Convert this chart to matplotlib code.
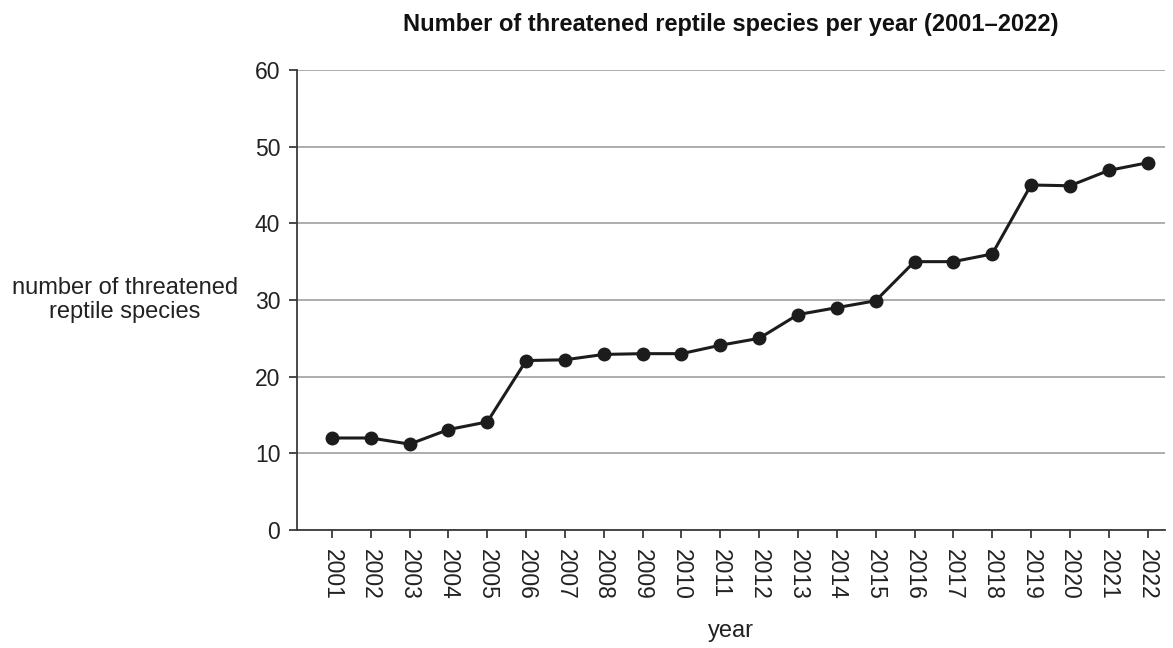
import matplotlib.pyplot as plt

plt.rcParams['font.family'] = ['Liberation Sans', 'DejaVu Sans']

# Data
years = [str(y) for y in range(2001, 2023)]
species = [12, 12, 11.2, 13.1, 14.1, 22.1, 22.2, 22.9, 23, 23, 24.1, 25,
           28.1, 29, 29.9, 35, 35, 36, 45, 44.9, 46.9, 47.9]
y_ticks = [0, 10, 20, 30, 40, 50, 60]

fig = plt.figure(figsize=(11.73, 6.48), dpi=100)
ax = fig.add_axes([0.2532, 0.1821, 0.7400, 0.7099])

x = list(range(len(years)))
ax.plot(x, species, color='#1c1c1c', lw=2.2, marker='o', ms=9, zorder=3)

ax.set_xlim(-0.9, 21.45)
ax.set_ylim(0, 60)
ax.set_yticks(y_ticks)
ax.set_xticks(x)
ax.set_xticklabels(years, rotation=-90)
ax.yaxis.grid(True, color='#a0a0a0', lw=1.2)
ax.set_axisbelow(True)

for s in ['top', 'right']:
    ax.spines[s].set_visible(False)
for s in ['left', 'bottom']:
    ax.spines[s].set_color('#3a3a3a')
    ax.spines[s].set_linewidth(1.3)

ax.tick_params(axis='both', colors='#3a3a3a', labelcolor='#222222',
               labelsize=16.5, length=6, width=1.3)
ax.tick_params(axis='x', pad=8)
ax.tick_params(axis='y', pad=6)

ax.set_title('Number of threatened reptile species per year (2001\u20132022)',
             fontsize=17, fontweight='bold', pad=28, color='#111111')
ax.set_xlabel('year', fontsize=17, color='#222222', labelpad=14)
ax.set_ylabel('number of threatened\nreptile species', fontsize=17,
              color='#222222', rotation=0, ha='center', va='center',
              linespacing=1.1)
ax.yaxis.set_label_coords(-0.198, 0.5)

fig.savefig('out.png', dpi=100)
